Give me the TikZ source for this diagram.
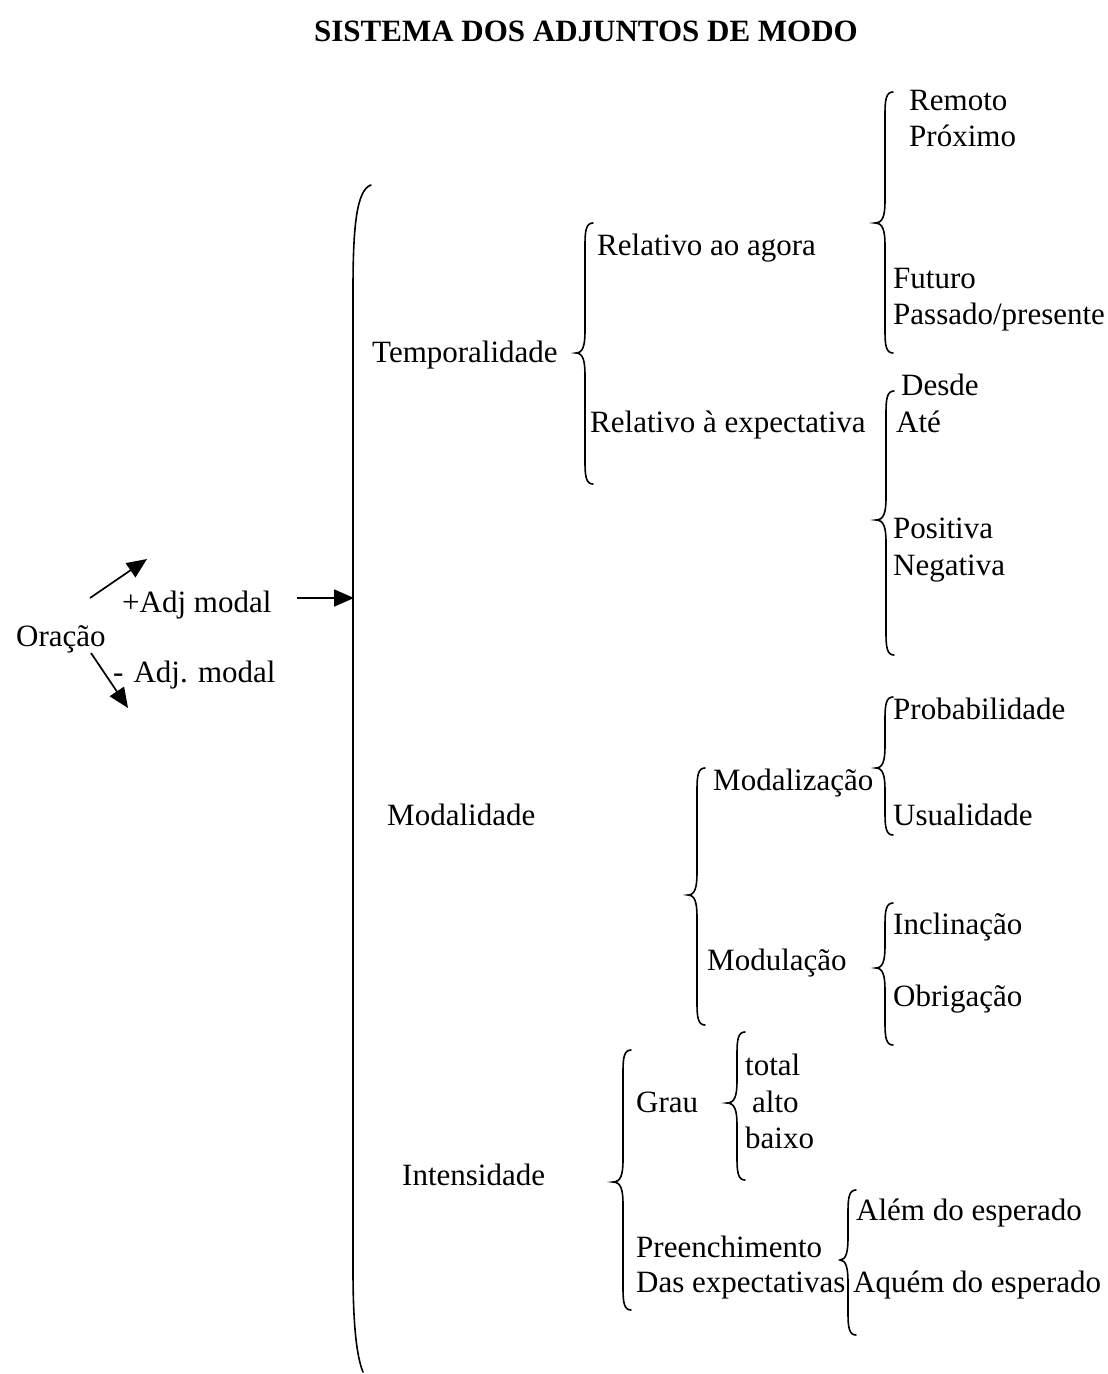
\documentclass[tikz,border=0pt]{standalone}
\usepackage{fontspec}
\setmainfont{Liberation Serif}
\usetikzlibrary{arrows.meta}
\newcommand\cbr[5]{% line x, tip x, top y, mid y, bottom y
  \draw[brc] ({#1+8},#3) .. controls ({#1+1},#3) and (#1,{#3+8}) .. (#1,{#3+22})
    -- (#1,{#4-22}) .. controls (#1,{#4-8}) and ({#1-2},#4) .. (#2,#4)
    .. controls ({#1-2},#4) and (#1,{#4+8}) .. (#1,{#4+22})
    -- (#1,{#5-22}) .. controls (#1,{#5-8}) and ({#1+1},#5) .. ({#1+8},#5);}
\begin{document}
\begin{tikzpicture}[x=1pt,y=-1pt,
  lbl/.style={anchor=west,inner sep=0pt,font=\fontsize{31}{37}\selectfont,text height=21pt,text depth=7pt,yshift=-3pt},
  brc/.style={line width=1.6pt,line cap=round},
  arr/.style={line width=1.7pt,-{Triangle[length=20pt,width=17pt]}}]
\useasboundingbox (0,0) rectangle (1108,1374);
\node[font=\fontsize{31}{37}\selectfont\bfseries,inner sep=0pt] (title) at (586,31) {SISTEMA DOS ADJUNTOS DE MODO};
% left part
\node[lbl] (oracao) at (16,636) {Oração};
\node[lbl] (mais) at (122,602) {+Adj modal};
\node[lbl] (menos) at (113,672) {-\hspace{10pt}Adj. modal};
\coordinate (u0) at (90,598); \coordinate (u1) at (147,559);
\coordinate (d0) at (91,653); \coordinate (d1) at (128,708);
\coordinate (h0) at (297,598); \coordinate (h1) at (354,598);
\draw[arr] (u0) -- (u1);
\draw[arr] (d0) -- (d1);
\draw[arr] (h0) -- (h1);
% big brace
\draw[brc] (371,185) .. controls (356,190) and (353,230) .. (353,290) -- (353,1270) .. controls (353,1320) and (356,1355) .. (363,1372);
% level 1
\node[lbl] (temp) at (372,352) {Temporalidade};
\node[lbl] (moda) at (387,815) {Modalidade};
\node[lbl] (inte) at (402,1175) {Intensidade};
% temporalidade
\cbr{585}{576}{223}{353}{484}
\node[lbl] (rag) at (597,245) {Relativo ao agora};
\node[lbl] (rex) at (590,422) {Relativo à expectativa};
\cbr{885}{875}{92}{223}{353}
\node[lbl] (rem) at (909,100) {Remoto};
\node[lbl] (pro) at (909,136) {Próximo};
\node[lbl] (fut) at (893,278) {Futuro};
\node[lbl] (pas) at (893,314) {Passado/presente};
\cbr{886}{876}{391}{520}{655}
\node[lbl] (des) at (901,385) {Desde};
\node[lbl] (ate) at (896,422) {Até};
\node[lbl] (pos) at (893,528) {Positiva};
\node[lbl] (neg) at (893,565) {Negativa};
% modalidade
\cbr{697}{688}{768}{895}{1025}
\node[lbl] (mzc) at (713,780) {Modalização};
\node[lbl] (mlc) at (707,960) {Modulação};
\cbr{885}{876}{697}{768}{835}
\node[lbl] (prb) at (893,709) {Probabilidade};
\node[lbl] (usu) at (893,815) {Usualidade};
\cbr{885}{876}{903}{968}{1045}
\node[lbl] (inc) at (893,924) {Inclinação};
\node[lbl] (obr) at (893,996) {Obrigação};
% intensidade
\cbr{623}{613}{1050}{1182}{1310}
\node[lbl] (gra) at (636,1102) {Grau};
\node[lbl] (pre) at (636,1247) {Preenchimento};
\node[lbl] (dex) at (636,1282) {Das expectativas};
\cbr{737}{727}{1032}{1103}{1180}
\node[lbl] (tot) at (745,1065) {total};
\node[lbl] (alt) at (752,1102) {alto};
\node[lbl] (bai) at (745,1138) {baixo};
\cbr{848}{840}{1190}{1260}{1335}
\node[lbl] (ale) at (856,1210) {Além do esperado};
\node[lbl] (aqu) at (853,1282) {Aquém do esperado};
\end{tikzpicture}
\end{document}
